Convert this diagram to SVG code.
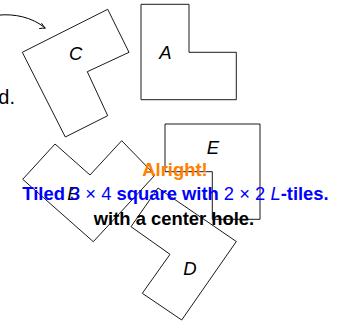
<svg xmlns="http://www.w3.org/2000/svg" width="338" height="323" viewBox="0 0 338 323">
<style>
.tile{fill:none;stroke:#000;stroke-width:0.9;stroke-linejoin:miter}
.lbl{font-family:"Liberation Sans",Arial,sans-serif;font-style:italic;font-size:18.5px;text-anchor:middle;fill:#000}
.big{font-family:"Liberation Sans",Arial,sans-serif;font-weight:bold;font-size:18.4px;text-anchor:middle}
.m{font-weight:normal}
.conn{fill:none;stroke:#000;stroke-width:1}
</style>
<rect x="0" y="0" width="338" height="323" fill="#fff"/>
<g id="connectors">
<path class="conn" d="M-2,15.2 C14,13.5 32,17 45.2,28"/>
<path class="conn" d="M41.5,23.2 Q43.5,26.5 45.4,28.2 Q42.5,28 39.2,28.6"/>
</g>
<g id="tileC">
<polygon class="tile" points="22.3,52.3 107.7,9.3 129,52.3 87.3,71.7 107.7,115.7 65.3,137"/>
<text class="lbl" x="75.7" y="60">C</text>
</g>
<g id="tileA">
<polygon class="tile" points="141,4.3 189,4.3 189,52.3 236.3,52.3 236.3,99.7 141,99.7"/>
<text class="lbl" x="165.5" y="59.3">A</text>
</g>
<g id="tileE">
<polygon class="tile" points="165,124 260,124 260,219.3 212.3,219.3 212.3,171.7 165,171.7"/>
<text class="lbl" x="212.8" y="154">E</text>
</g>
<g id="tileB">
<polygon class="tile" points="22.7,179.3 55,144 90,175 121.7,140.7 155,175 93.3,241.7"/>
<text class="lbl" x="73.5" y="200">B</text>
</g>
<g id="tileD">
<polygon class="tile" points="131,226.7 158,188 236.3,241.5 181.7,320 142.3,293.3 170,254.3"/>
<text class="lbl" x="190" y="275">D</text>
</g>
<g id="captions">
<text x="15" y="104.3" text-anchor="end" font-family="Liberation Sans, Arial, sans-serif" font-size="20" fill="#000">d.</text>
<text class="big" x="175" y="175.5" fill="#FF8000">Alright!</text>
<text class="big" x="175.5" y="200" fill="#0000FF">Tiled <tspan class="m">3 × 4</tspan> square with <tspan class="m">2 × 2</tspan> <tspan class="m" font-style="italic">L</tspan>-tiles.</text>
<text class="big" x="174" y="225" fill="#000">with a center hole.</text>
</g>
</svg>
